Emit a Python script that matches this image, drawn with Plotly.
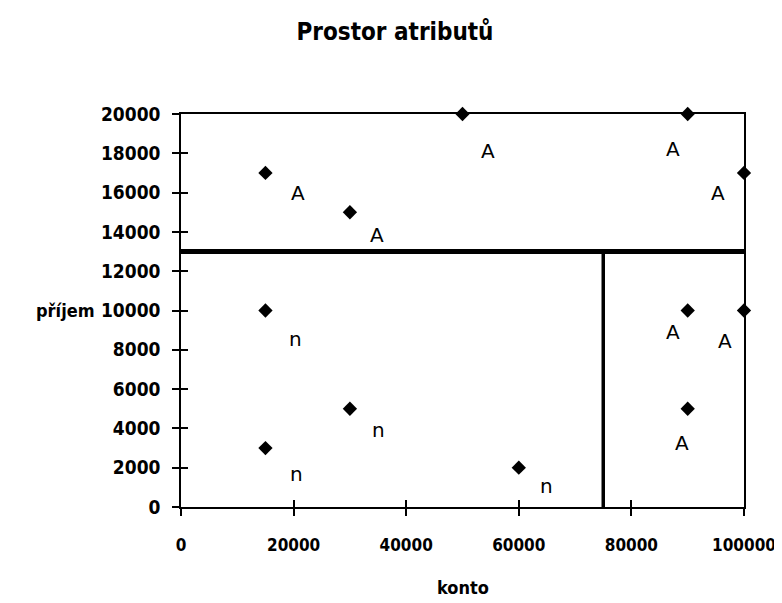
import plotly.graph_objects as go

# data
konto = [15000, 30000, 50000, 90000, 100000, 15000, 30000, 15000, 60000, 90000, 100000, 90000]
prijem = [17000, 15000, 20000, 20000, 17000, 10000, 5000, 3000, 2000, 10000, 10000, 5000]
trida = ["A", "A", "A", "A", "A", "n", "n", "n", "n", "A", "A", "A"]
label_x = [20800, 34900, 54500, 87300, 95400, 20300, 35100, 20500, 64900, 87300, 96600, 88900]
label_y = [16000, 13850, 18100, 18200, 16000, 8560, 3930, 1660, 1060, 8900, 8460, 3270]
split_prijem = 13000
split_konto = 75000
x_ticks = [0, 20000, 40000, 60000, 80000, 100000]
y_ticks = [0, 2000, 4000, 6000, 8000, 10000, 12000, 14000, 16000, 18000, 20000]

FONT = "DejaVu Sans Condensed, Liberation Sans Narrow, DejaVu Sans, sans-serif"

fig = go.Figure()
fig.add_trace(go.Scatter(
    x=konto, y=prijem, mode="markers",
    marker=dict(symbol="diamond", size=11, color="black"),
    cliponaxis=False, showlegend=False,
))
fig.add_trace(go.Scatter(
    x=[0, 100000], y=[split_prijem, split_prijem], mode="lines",
    line=dict(color="black", width=5), showlegend=False, cliponaxis=False,
))
fig.add_trace(go.Scatter(
    x=[split_konto, split_konto], y=[0, split_prijem], mode="lines",
    line=dict(color="black", width=3.5), showlegend=False, cliponaxis=False,
))
# invisible trace for overlay axes (inside half of crossing ticks)
fig.add_trace(go.Scatter(x=[0], y=[0], mode="markers", marker=dict(opacity=0),
                         xaxis="x2", yaxis="y2", showlegend=False, hoverinfo="skip"))

for lx, ly, t in zip(label_x, label_y, trida):
    fig.add_annotation(x=lx, y=ly, text=t, showarrow=False,
                       font=dict(family="DejaVu Sans, sans-serif", size=20, color="black"))

fig.add_annotation(xref="paper", yref="paper", x=-0.149, xanchor="right", y=0.5, yanchor="middle",
                   text="<b>příjem</b>", showarrow=False,
                   font=dict(family=FONT, size=18, color="black"))
fig.add_annotation(xref="paper", yref="paper", x=0.5, xanchor="center", y=-0.206, yanchor="middle",
                   text="<b>konto</b>", showarrow=False,
                   font=dict(family=FONT, size=18, color="black"))

axis_common = dict(showgrid=False, zeroline=False, showline=True, linecolor="black", linewidth=1.5,
                   ticklen=7, tickcolor="black", tickwidth=1.5, automargin=False)

fig.update_layout(
    width=774, height=595,
    margin=dict(l=173, r=38, t=106, b=96),
    paper_bgcolor="white", plot_bgcolor="white",
    title=dict(text="<b>Prostor atributů</b>", x=0.5, xref="container", xanchor="center",
               y=0.96, yref="container", yanchor="middle", automargin=False,
               font=dict(family=FONT, size=24, color="black")),
    font=dict(family=FONT, color="black"),
    xaxis=dict(range=[0, 100000], tickvals=x_ticks, ticktext=[f"<b>{v}</b>" for v in x_ticks],
               mirror=True, ticks="outside", ticklabelstandoff=15,
               tickfont=dict(family=FONT, size=17), **axis_common),
    yaxis=dict(range=[0, 20000], tickvals=y_ticks, ticktext=[f"<b>{v}</b>" for v in y_ticks],
               mirror=True, ticks="outside", ticklabelstandoff=8,
               tickfont=dict(family=FONT, size=19), **axis_common),
    xaxis2=dict(range=[0, 100000], tickvals=x_ticks, showticklabels=False, overlaying="x",
                side="bottom", ticks="inside", anchor="y2", **axis_common),
    yaxis2=dict(range=[0, 20000], tickvals=y_ticks, showticklabels=False, overlaying="y",
                side="left", ticks="inside", anchor="x2", **axis_common),
)
fig.layout.xaxis2.showline = False
fig.layout.yaxis2.showline = False

fig.write_html("out.html")
